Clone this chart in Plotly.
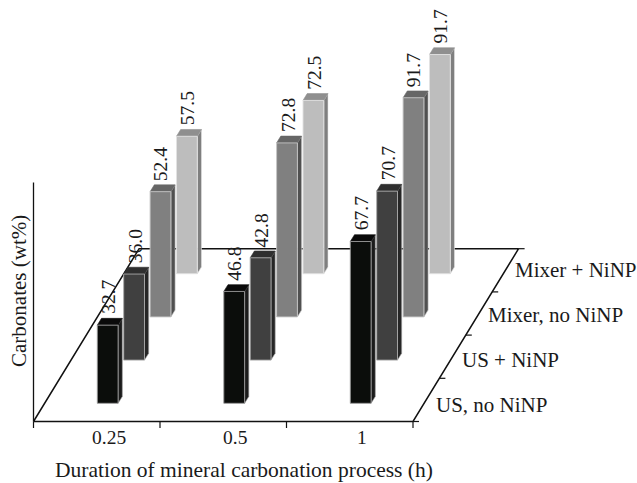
import plotly.graph_objects as go

durations = ["0.25", "0.5", "1"]
methods = ["US, no NiNP", "US + NiNP", "Mixer, no NiNP", "Mixer + NiNP"]
us_no_ninp = [32.7, 46.8, 67.7]
us_ninp = [36.0, 42.8, 70.7]
mixer_no_ninp = [52.4, 72.8, 91.7]
mixer_ninp = [57.5, 72.5, 91.7]
series = [us_no_ninp, us_ninp, mixer_no_ninp, mixer_ninp]

front_cols = ["#0b0d0b", "#404040", "#808080", "#bdbdbd"]
top_cols = ["#0a0a0a", "#2f2f2f", "#666666", "#8f8f8f"]
side_cols = ["#1b1b1b", "#262626", "#505050", "#7f7f7f"]
edge_cols = ["#9a9a9a", "#a8a8a8", "#c4c4c4", "#e2e2e2"]

# oblique projection, in page pixels
X0, Y0 = 33.5, 421.5
CAT = 126.5
DX, DY = 26.4, -43.2
PER_UNIT = 2.39
BAR_W = 20.8
OFF_X, OFF_Y = 63.8, 18.2
FACE_X, FACE_Y = 4.2, -6.8
TXT = "#1a1a1a"
FONT = "Liberation Serif"


def px(c, d):
    return X0 + c * CAT + d * DX


def py(d, v=0.0):
    return Y0 + d * DY - v * PER_UNIT


fig = go.Figure()


def line(xs, ys, width=1.2, color="#111111"):
    fig.add_trace(go.Scatter(x=xs, y=ys, mode="lines", line=dict(color=color, width=width),
                             hoverinfo="skip", showlegend=False))


def poly(xs, ys, fill, edge, width=0.9):
    fig.add_trace(go.Scatter(x=xs + xs[:1], y=ys + ys[:1], mode="lines", fill="toself", fillcolor=fill,
                             line=dict(color=edge, width=width), hoverinfo="skip", showlegend=False))


# floor and axes
n_c, n_d = len(durations), len(methods)
line([px(0, 0), px(n_c, 0), px(n_c, n_d), px(0, n_d), px(0, 0)], [py(0), py(0), py(n_d), py(n_d), py(0)], 1.5)
line([px(0, 0), px(0, 0)], [py(0), py(0, 100)], 1.3)
for c in range(n_c + 1):
    line([px(c, 0), px(c, 0)], [py(0), py(0) + 6.5], 1.2)
for d in range(n_d + 1):
    line([px(n_c, d), px(n_c, d) + 6], [py(d), py(d)], 1.2)

# bars, back to front
annotations = []
for d in reversed(range(n_d)):
    for c, v in enumerate(series[d]):
        l = px(c, d) + OFF_X
        r = l + BAR_W
        b = py(d) - OFF_Y
        t = b - v * PER_UNIT
        poly([r, r + FACE_X, r + FACE_X, r], [b, b + FACE_Y, t + FACE_Y, t], side_cols[d], edge_cols[d], 0.6)
        poly([l, r, r + FACE_X, l + FACE_X], [t, t, t + FACE_Y, t + FACE_Y], top_cols[d], top_cols[d], 0.6)
        poly([l, r, r, l], [b, b, t, t], front_cols[d], edge_cols[d], 0.9)
        annotations.append(dict(x=(l + r) / 2 + 0.8, y=t + FACE_Y - 3, text=f"{v:.1f}", textangle=-90,
                                xanchor="center", yanchor="bottom", showarrow=False,
                                font=dict(family=FONT, size=19.5, color=TXT)))

for c, name in enumerate(durations):
    annotations.append(dict(x=px(c, 0) + 75, y=437.5, text=name, showarrow=False, xanchor="center", yanchor="middle",
                            font=dict(family=FONT, size=19.5, color=TXT)))
for d, name in enumerate(methods):
    annotations.append(dict(x=434.5 + d * 26.4, y=405 - d * 45, text=name, showarrow=False,
                            xanchor="left", yanchor="middle", font=dict(family=FONT, size=21, color=TXT)))
annotations.append(dict(x=243.5, y=470, text="Duration of mineral carbonation process (h)", showarrow=False,
                        xanchor="center", yanchor="middle", font=dict(family=FONT, size=21.5, color=TXT)))
annotations.append(dict(x=19, y=291, text="Carbonates (wt%)", textangle=-90, showarrow=False,
                        xanchor="center", yanchor="middle", font=dict(family=FONT, size=21, color=TXT)))
for a in annotations:
    a["xref"], a["yref"] = "x", "y"
    a["borderpad"] = 0

fig.update_layout(
    width=637, height=483, autosize=False, margin=dict(l=0, r=0, t=0, b=0),
    paper_bgcolor="white", plot_bgcolor="white", showlegend=False, annotations=annotations,
    xaxis=dict(range=[0, 637], visible=False, fixedrange=True),
    yaxis=dict(range=[483, 0], visible=False, fixedrange=True),
)
fig.write_html("out.html", config=dict(displayModeBar=False),
               post_script="document.body.style.margin='0';document.documentElement.style.overflow='hidden';")
